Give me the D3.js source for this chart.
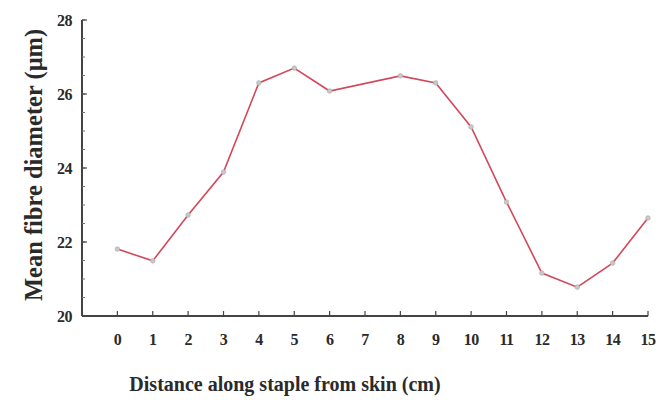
<!DOCTYPE html>
<html>
<head>
<meta charset="utf-8">
<script src="https://cdn.jsdelivr.net/npm/d3@7"></script>
<style>
  html, body { margin: 0; padding: 0; background: #fff; }
  svg { display: block; }
  text { font-family: "Liberation Serif", "DejaVu Serif", serif; font-weight: bold; fill: #2a2a2a; }
</style>
</head>
<body>
<svg id="chart" width="661" height="402"></svg>
<script>
// Mean fibre diameter measured along the wool staple
const distances = [0, 1, 2, 3, 4, 5, 6, 8, 9, 10, 11, 12, 13, 14, 15];
const diameters = [21.81, 21.49, 22.73, 23.89, 26.30, 26.70, 26.08, 26.49, 26.30, 25.11, 23.08, 21.16, 20.78, 21.43, 22.65];
const xTicks = d3.range(0, 16);
const yTicks = [20, 22, 24, 26, 28];
const yMinorTicks = d3.range(20, 28.01, 0.5);

const svg = d3.select("#chart");
const x = d3.scaleLinear().domain([-1, 15]).range([82, 648]);
const y = d3.scaleLinear().domain([20, 28]).range([316, 20]);
const axisColor = "#444";

// y axis: minor ticks, then major ticks with labels
const yAxis = svg.append("g").attr("transform", `translate(${x(-1)},0)`);
yAxis.append("line").attr("y1", y(28)).attr("y2", y(20))
  .attr("stroke", axisColor).attr("stroke-width", 2);
yAxis.selectAll("line.minor").data(yMinorTicks).join("line").attr("class", "minor")
  .attr("x1", 0).attr("x2", 3).attr("y1", d => y(d)).attr("y2", d => y(d))
  .attr("stroke", "#777").attr("stroke-width", 1);
yAxis.selectAll("line.major").data(yTicks).join("line").attr("class", "major")
  .attr("x1", 0).attr("x2", 5).attr("y1", d => y(d)).attr("y2", d => y(d))
  .attr("stroke", axisColor).attr("stroke-width", 1.2);
yAxis.selectAll("text").data(yTicks).join("text")
  .attr("x", -10).attr("y", d => y(d)).attr("dy", "0.35em")
  .attr("text-anchor", "end").attr("font-size", 16)
  .attr("letter-spacing", -0.5).text(d => d);

// x axis with upward ticks
const xAxis = svg.append("g").attr("transform", `translate(0,${y(20)})`);
xAxis.append("line").attr("x1", x(-1)).attr("x2", x(15))
  .attr("stroke", axisColor).attr("stroke-width", 2);
xAxis.selectAll("line.tick").data(xTicks).join("line").attr("class", "tick")
  .attr("x1", d => x(d)).attr("x2", d => x(d)).attr("y1", 0).attr("y2", -5)
  .attr("stroke", axisColor).attr("stroke-width", 1.2);
xAxis.selectAll("text").data(xTicks).join("text")
  .attr("x", d => x(d)).attr("y", 29)
  .attr("text-anchor", "middle").attr("font-size", 16)
  .attr("letter-spacing", -0.5).text(d => d);

// axis titles
svg.append("text").attr("x", 285).attr("y", 391)
  .attr("text-anchor", "middle").attr("font-size", 20)
  .text("Distance along staple from skin (cm)");
svg.append("text").attr("transform", "translate(42,165) rotate(-90)")
  .attr("text-anchor", "middle").attr("font-size", 24.5)
  .text("Mean fibre diameter (μm)");

// data line and markers
const pts = distances.map((d, i) => [d, diameters[i]]);
svg.append("path").datum(pts)
  .attr("fill", "none").attr("stroke", "#d2485a").attr("stroke-width", 1.6)
  .attr("d", d3.line().x(d => x(d[0])).y(d => y(d[1])));
svg.selectAll("circle").data(pts).join("circle")
  .attr("cx", d => x(d[0])).attr("cy", d => y(d[1])).attr("r", 2.3)
  .attr("fill", "#c8c8c8").attr("stroke", "#aaa").attr("stroke-width", 0.6);
</script>
</body>
</html>
